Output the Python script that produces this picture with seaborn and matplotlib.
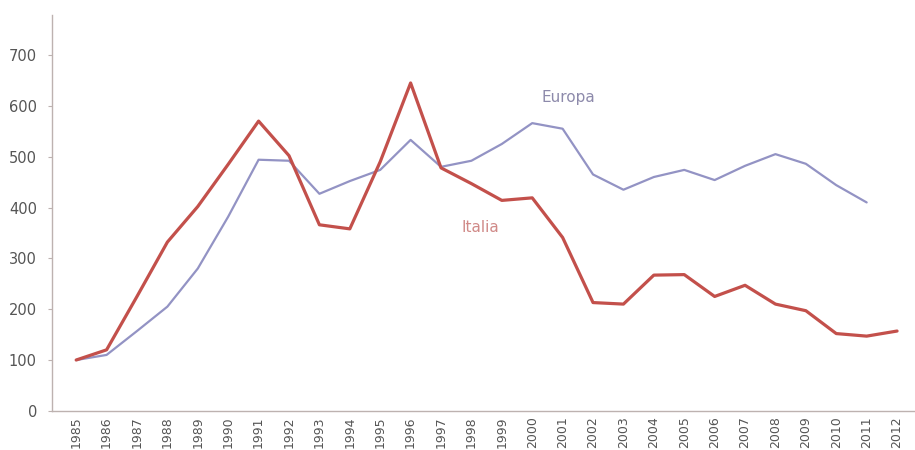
import numpy as np
import pandas as pd
import matplotlib
matplotlib.use("Agg")
import matplotlib.pyplot as plt
import seaborn as sns

years = list(range(1985, 2013))
italia = [100, 120, 225, 332, 402, 485, 570, 502, 366, 358, 490, 645,
          478, 447, 414, 419, 341, 213, 210, 267, 268, 225, 247, 210,
          197, 152, 147, 157]
europa = [100, 110, 157, 205, 280, 382, 494, 492, 427, 452, 474, 533,
          480, 492, 525, 566, 555, 465, 435, 460, 474, 454, 482, 505,
          486, 444, 410, np.nan]
y_ticks = [0, 100, 200, 300, 400, 500, 600, 700]

df = pd.DataFrame({"anno": years, "Italia": italia, "Europa": europa})

sns.set_theme(style="white")
plt.rcParams["font.family"] = ["DejaVu Sans"]

fig = plt.figure(figsize=(9.15, 4.5), dpi=100)
ax = fig.add_axes([0.057, 0.087, 0.943, 0.88])

sns.lineplot(data=df, x="anno", y="Europa", ax=ax, color="#9393c4",
             linewidth=1.6)
sns.lineplot(data=df, x="anno", y="Italia", ax=ax, color="#c3504b",
             linewidth=2.3)

ax.set_xlim(1984.21, 2012.59)
ax.set_ylim(0, 779)
ax.set_xticks(years)
ax.set_xticklabels([str(y) for y in years], rotation=90, fontsize=9,
                   color="#555555")
ax.set_yticks(y_ticks)
ax.set_yticklabels([str(v) for v in y_ticks], fontsize=10.5, color="#555555")
ax.set_xlabel("")
ax.set_ylabel("")

for side in ("top", "right"):
    ax.spines[side].set_visible(False)
for side in ("left", "bottom"):
    ax.spines[side].set_color("#bdb2b0")
    ax.spines[side].set_linewidth(1.0)

ax.tick_params(axis="y", which="major", length=3, width=0.8,
               color="#bdb2b0", pad=8, left=True)
ax.tick_params(axis="x", which="major", length=0, pad=4)

ax.text(2001.18, 617, "Europa", fontsize=11, color="#8d8aab",
        ha="center", va="center")
ax.text(1998.28, 360, "Italia", fontsize=11, color="#d08a88",
        ha="center", va="center")

fig.savefig("out.png", dpi=100, facecolor="white")
